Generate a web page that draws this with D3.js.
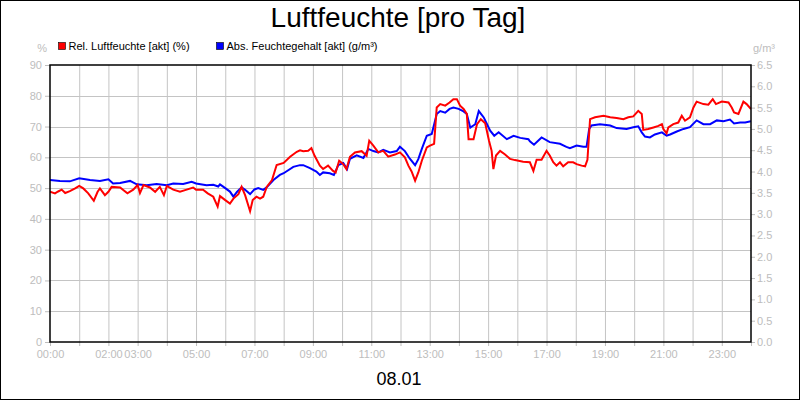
<!DOCTYPE html>
<html><head><meta charset="utf-8">
<script src="https://cdn.jsdelivr.net/npm/d3@7"></script>
<style>
body{margin:0;background:#fff;}
svg text{font-family:"Liberation Sans",Arial,sans-serif;}
</style></head>
<body><svg id="c" width="800" height="400"></svg>
<script>
const title = "Luftfeuchte [pro Tag]";
const dateLabel = "08.01";
const seriesNames = ["Rel. Luftfeuchte [akt] (%)", "Abs. Feuchtegehalt [akt] (g/m³)"];
const leftUnit = "%";
const rightUnit = "g/m³";
const xTickLabels = ["00:00","02:00","03:00","05:00","07:00","09:00","11:00","13:00","15:00","17:00","19:00","21:00","23:00"];
const leftTicks = [0,10,20,30,40,50,60,70,80,90];
const rightTicks = [0,0.5,1,1.5,2,2.5,3,3.5,4,4.5,5,5.5,6,6.5];

const relHours = [0,0.17,0.28,0.4,0.52,0.68,0.86,1.0,1.14,1.31,1.5,1.63,1.71,1.88,2.0,2.11,2.4,2.65,2.85,3.0,3.08,3.2,3.42,3.6,3.76,3.9,4.0,4.22,4.45,4.68,4.9,5.0,5.24,5.4,5.59,5.74,5.82,6.0,6.16,6.28,6.45,6.56,6.68,6.85,6.94,7.07,7.19,7.3,7.42,7.6,7.76,8.0,8.22,8.45,8.56,8.67,8.84,8.95,9.06,9.24,9.35,9.52,9.69,9.78,9.9,10.04,10.15,10.27,10.44,10.67,10.84,10.93,11.07,11.24,11.41,11.58,11.81,11.98,12.15,12.27,12.38,12.5,12.61,12.73,12.9,13.01,13.15,13.24,13.36,13.53,13.68,13.81,13.93,14.04,14.16,14.27,14.33,14.5,14.62,14.75,14.9,15.03,15.12,15.18,15.27,15.41,15.58,15.75,15.92,16.2,16.43,16.55,16.66,16.83,17.0,17.11,17.23,17.34,17.46,17.57,17.74,17.91,18.03,18.2,18.32,18.4,18.49,18.66,18.95,19.18,19.4,19.63,19.8,19.97,20.14,20.26,20.31,20.48,20.66,20.83,20.95,21.0,21.11,21.17,21.34,21.51,21.63,21.74,21.91,22.03,22.14,22.37,22.54,22.69,22.8,23.0,23.23,23.34,23.42,23.57,23.74,23.85,24.0];
const relValues = [48.8,48.3,48.9,49.5,48.4,49.0,49.9,50.7,49.9,48.3,45.9,48.8,49.9,47.7,48.8,50.4,50.2,48.3,49.5,51.0,48.4,51.0,50.2,48.8,50.4,47.7,50.7,49.5,48.8,49.5,50.2,49.5,49.5,48.3,47.2,44.0,47.4,46.1,45.0,46.6,48.0,50.4,47.7,42.5,46.1,47.2,46.6,47.2,50.4,52.6,57.5,58.2,60.2,61.8,62.3,62.0,62.1,63.0,60.5,57.3,56.2,57.3,55.6,55.1,58.9,57.8,56.2,60.2,61.6,62.0,60.5,65.4,63.8,61.6,62.1,60.2,60.9,61.6,60.0,57.3,55.4,52.4,55.1,58.9,63.2,63.8,64.4,76.2,77.3,76.8,77.8,78.9,78.9,76.8,75.7,74.1,65.9,65.9,70.8,72.4,71.1,65.4,62.1,56.2,60.6,62.1,60.9,59.5,59.1,58.6,58.4,55.6,59.2,59.2,62.1,60.6,58.4,57.3,58.4,57.1,58.4,58.4,57.8,57.3,57.1,59.2,72.4,73.0,73.5,73.0,72.8,72.4,73.0,73.3,75.1,74.1,68.9,69.2,69.7,70.2,70.8,69.2,67.8,69.7,70.8,71.3,73.5,71.9,73.0,76.2,78.1,77.3,77.1,78.9,77.3,78.1,77.8,76.2,74.6,74.1,78.1,77.3,75.7];

const absHours = [0,0.34,0.68,1.0,1.37,1.71,2.0,2.16,2.4,2.74,2.97,3.31,3.65,4.0,4.22,4.56,4.85,5.0,5.36,5.59,5.76,5.82,6.0,6.16,6.28,6.4,6.56,6.68,6.85,7.0,7.13,7.3,7.42,7.65,7.87,8.0,8.33,8.56,8.67,8.9,9.12,9.24,9.35,9.58,9.72,9.87,10.04,10.17,10.27,10.5,10.73,10.9,11.07,11.24,11.41,11.64,11.87,11.98,12.15,12.32,12.5,12.61,12.73,12.9,13.07,13.24,13.36,13.53,13.68,13.81,13.99,14.16,14.27,14.39,14.56,14.68,14.85,15.07,15.21,15.36,15.64,15.87,16.1,16.38,16.43,16.57,16.83,17.11,17.46,17.68,17.8,18.03,18.26,18.37,18.46,18.54,18.83,19.18,19.4,19.74,19.97,20.14,20.26,20.37,20.54,20.71,20.95,21.11,21.23,21.46,21.69,21.91,22.14,22.37,22.6,22.83,23.06,23.28,23.42,23.63,23.8,24.0];
const absValues = [3.80,3.78,3.77,3.84,3.80,3.78,3.82,3.72,3.73,3.78,3.70,3.68,3.71,3.68,3.72,3.71,3.76,3.72,3.68,3.69,3.65,3.70,3.61,3.53,3.41,3.52,3.63,3.57,3.47,3.58,3.61,3.57,3.63,3.80,3.92,3.96,4.11,4.15,4.15,4.08,4.00,3.92,3.98,3.96,3.92,4.15,4.20,4.06,4.30,4.38,4.32,4.53,4.48,4.45,4.51,4.45,4.48,4.58,4.48,4.30,4.15,4.29,4.53,4.84,4.88,5.35,5.42,5.38,5.47,5.50,5.47,5.41,5.35,5.03,5.11,5.42,5.27,4.96,4.84,4.92,4.76,4.84,4.79,4.76,4.71,4.63,4.80,4.69,4.65,4.58,4.55,4.61,4.58,4.58,5.00,5.08,5.11,5.08,5.02,5.00,5.04,5.06,4.92,4.82,4.80,4.87,4.92,4.84,4.87,4.94,5.00,5.04,5.20,5.11,5.11,5.20,5.18,5.22,5.13,5.15,5.15,5.18];

const svg = d3.select("#c");
const L = 50, R = 751, T = 65, B = 342;
const gray = "#bdbdbd", grid = "#c4c4c4";
const x = d3.scaleLinear().domain([0,24]).range([L,R]);
const yL = d3.scaleLinear().domain([0,90]).range([B,T]);
const yR = d3.scaleLinear().domain([0,6.5]).range([B,T]);
const hourOf = s => +s.split(":")[0];

svg.append("rect").attr("x",0.5).attr("y",0.5).attr("width",799).attr("height",399)
  .attr("fill","#fff").attr("stroke","#000");

// grid
const gg = svg.append("g");
d3.range(1,24).forEach(h=>{
  gg.append("line").attr("x1",x(h)+0.5).attr("x2",x(h)+0.5).attr("y1",T).attr("y2",B).attr("stroke",grid);
});
leftTicks.slice(1,-1).forEach(v=>{
  gg.append("line").attr("x1",L).attr("x2",R).attr("y1",Math.round(yL(v))+0.5).attr("y2",Math.round(yL(v))+0.5).attr("stroke",grid);
});

function styleAxis(g){
  g.select(".domain").remove();
  g.selectAll(".tick line").attr("stroke",gray);
  g.selectAll(".tick text").attr("fill",gray).style("font-size","11px").style("font-family","'Liberation Sans',Arial,sans-serif");
}
const axL = svg.append("g").attr("transform",`translate(${L},0)`)
  .call(d3.axisLeft(yL).tickValues(leftTicks).tickSize(5).tickPadding(3).tickFormat(d3.format("d")));
styleAxis(axL);
const axR = svg.append("g").attr("transform",`translate(${R},0)`)
  .call(d3.axisRight(yR).tickValues(rightTicks).tickSize(4).tickPadding(2).tickFormat(d3.format(".1f")));
styleAxis(axR);
const axX = svg.append("g").attr("transform",`translate(0,${B})`)
  .call(d3.axisBottom(x).tickValues(d3.range(0,25)).tickSize(4).tickPadding(4)
  .tickFormat(h => { const s = xTickLabels.find(l=>hourOf(l)===h); return s || ""; }));
styleAxis(axX);

// lines
const lineL = d3.line().x(d=>x(d[0])).y(d=>yL(d[1]));
const lineR = d3.line().x(d=>x(d[0])).y(d=>yR(d[1]));
svg.append("clipPath").attr("id","pc").append("rect").attr("x",L).attr("y",T).attr("width",R-L).attr("height",B-T);
svg.append("path").datum(absHours.map((h,i)=>[h,absValues[i]])).attr("d",lineR)
  .attr("fill","none").attr("stroke","#0000ff").attr("stroke-width",2).attr("clip-path","url(#pc)");
svg.append("path").datum(relHours.map((h,i)=>[h,relValues[i]])).attr("d",lineL)
  .attr("fill","none").attr("stroke","#ff0000").attr("stroke-width",2).attr("clip-path","url(#pc)");

// frame
svg.append("rect").attr("x",L).attr("y",T).attr("width",R-L).attr("height",B-T)
  .attr("fill","none").attr("stroke","#000").attr("stroke-width",1.5);

// texts
svg.append("text").attr("x",398).attr("y",27).attr("text-anchor","middle").style("font-size","28px").attr("fill","#000").text(title);
svg.append("text").attr("x",399).attr("y",385).attr("text-anchor","middle").style("font-size","18px").attr("fill","#000").text(dateLabel);
svg.append("text").attr("x",47).attr("y",52).attr("text-anchor","end").style("font-size","11px").attr("fill",gray).text(leftUnit);
svg.append("text").attr("x",753).attr("y",52).style("font-size","11px").attr("fill",gray).text(rightUnit);

const leg = [{c:"#ff0000",x:58},{c:"#0000ff",x:216}];
leg.forEach((l,i)=>{
  svg.append("rect").attr("x",l.x+0.5).attr("y",42.5).attr("width",7).attr("height",7).attr("fill",l.c).attr("stroke","#000").attr("stroke-width",0.6);
  svg.append("text").attr("x",l.x+10.5).attr("y",50).style("font-size","11px").attr("fill","#000").text(seriesNames[i]);
});
</script></body></html>
